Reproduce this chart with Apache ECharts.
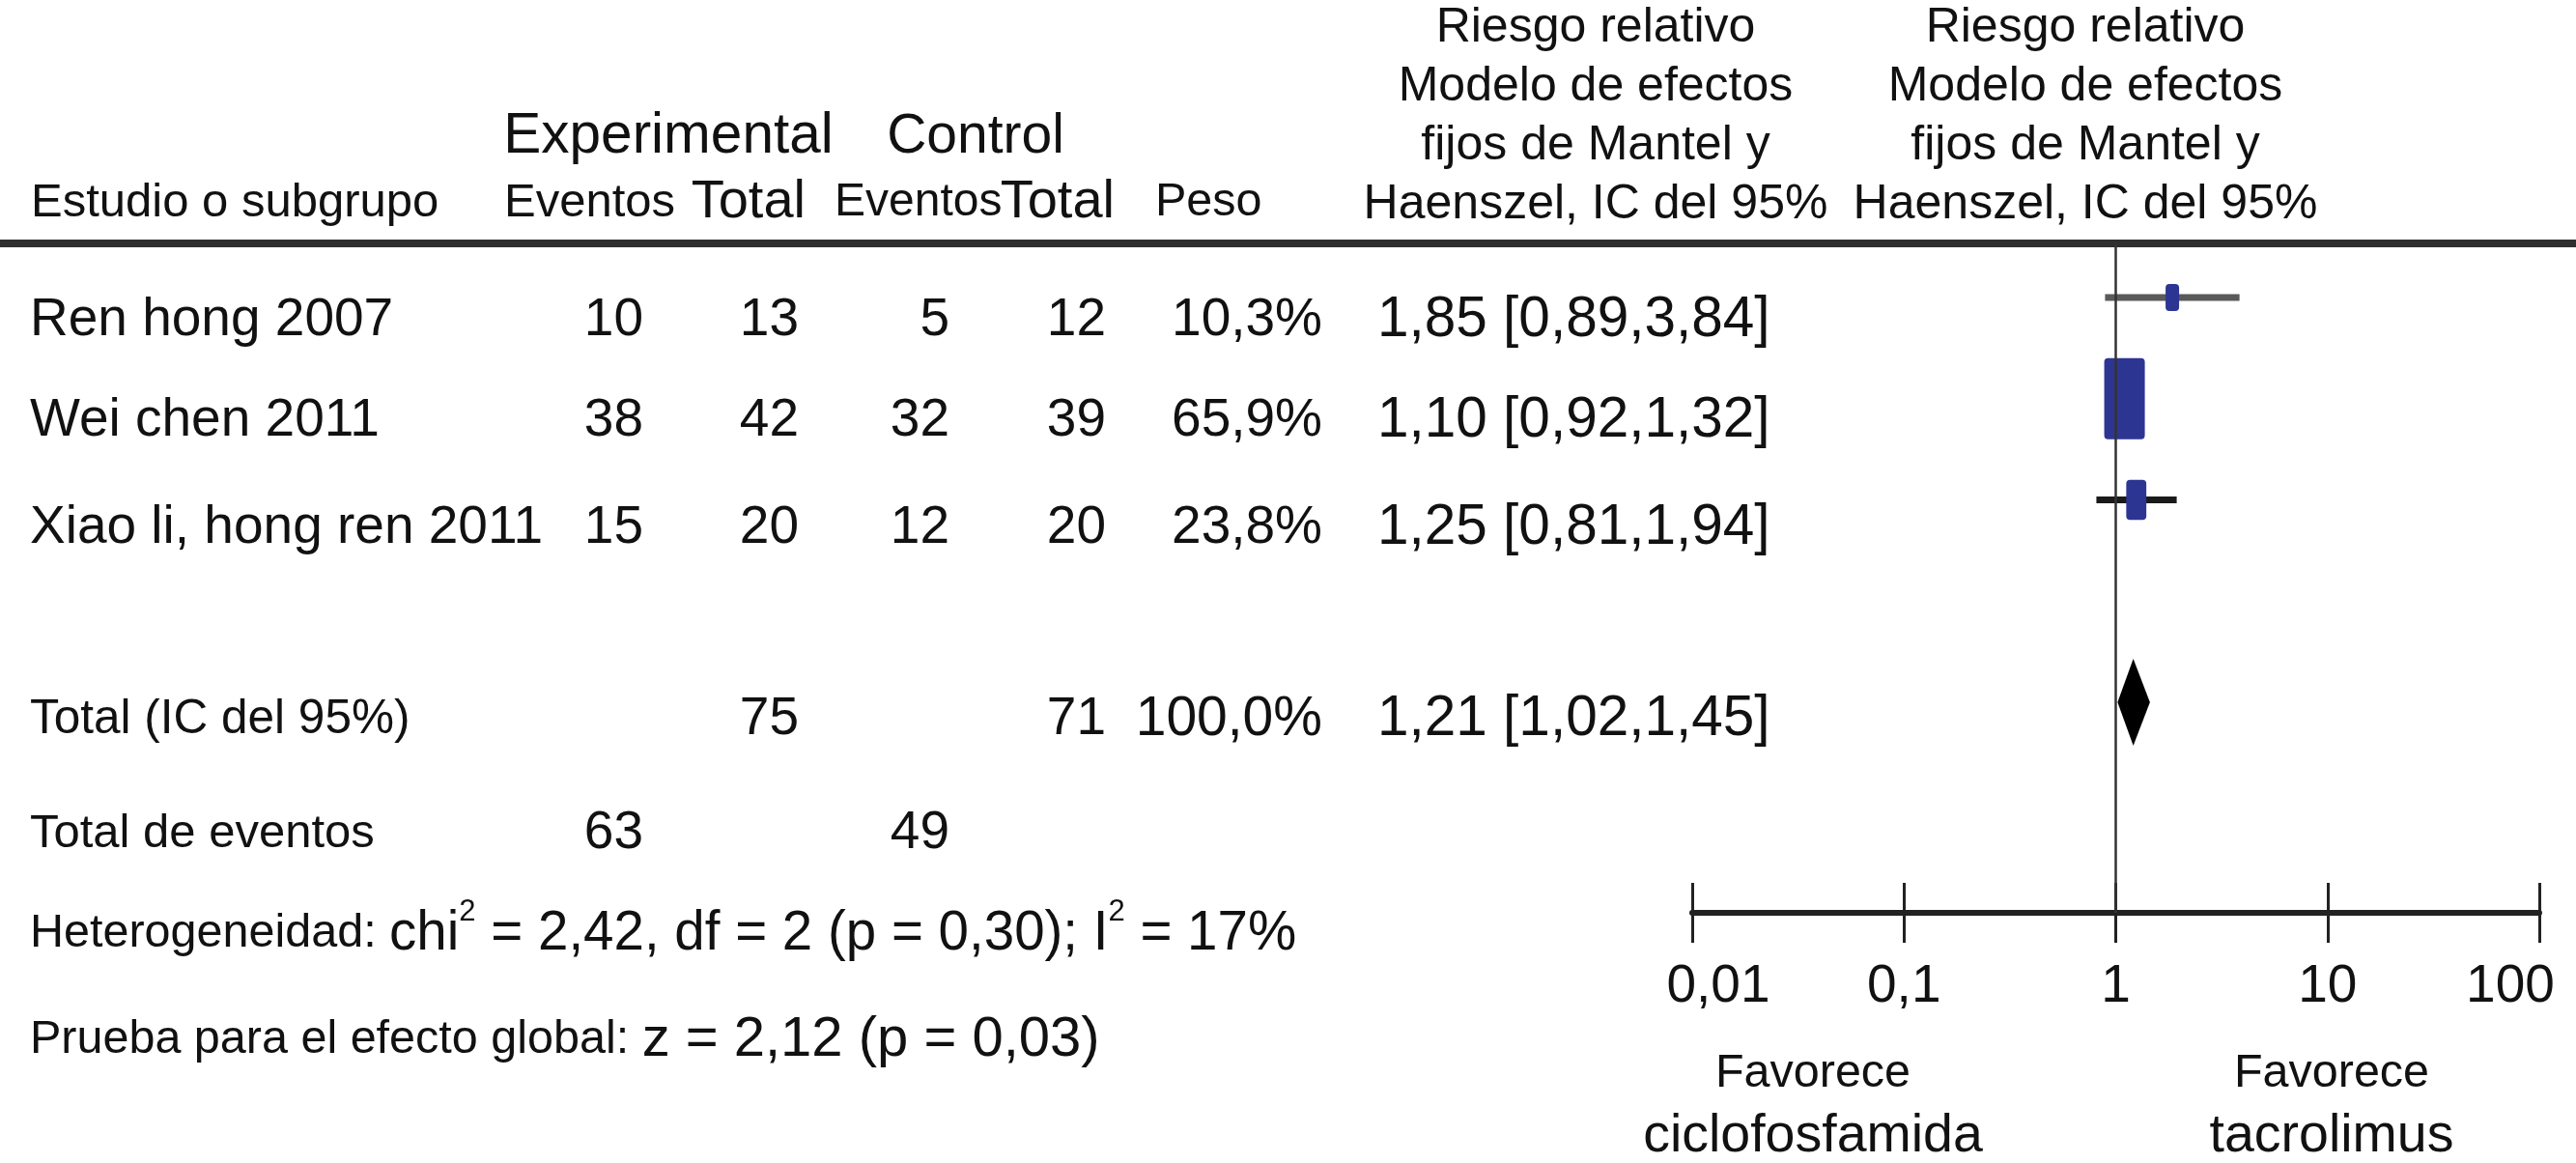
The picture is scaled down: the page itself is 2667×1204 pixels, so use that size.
<!DOCTYPE html>
<html>
<head>
<meta charset="utf-8">
<script src="https://cdn.jsdelivr.net/npm/echarts@6/dist/echarts.min.js"></script>
<style>
html,body{margin:0;padding:0;background:#fff;}
#main{width:2667px;height:1204px;}
</style>
</head>
<body>
<div id="main"></div>
<script>
// ---------- data ----------
const studies = ['Ren hong 2007', 'Wei chen 2011', 'Xiao li, hong ren 2011'];
const expEvents = [10, 38, 15];
const expTotal = [13, 42, 20];
const ctrlEvents = [5, 32, 12];
const ctrlTotal = [12, 39, 20];
const weights = [10.3, 65.9, 23.8];
const rr = [1.85, 1.10, 1.25];
const rrLow = [0.89, 0.92, 0.81];
const rrHigh = [3.84, 1.32, 1.94];
const studyRows = [0, 1, 2];

const pooledRow = 4;
const pooledRR = [1.21];
const pooledLow = [1.02];
const pooledHigh = [1.45];
const pooledExpTotal = 75;
const pooledCtrlTotal = 71;
const pooledWeight = 100.0;
const totalExpEvents = 63;
const totalCtrlEvents = 49;
const hetChi2 = 2.42, hetDf = 2, hetP = 0.30, hetI2 = 17;
const overallZ = 2.12, overallP = 0.03;

const axisTicks = [0.01, 0.1, 1, 10, 100];
const favourLeft = ['Favorece', 'ciclofosfamida'];
const favourRight = ['Favorece', 'tacrolimus'];

// ---------- styles / layout ----------
const FONT = '"Liberation Sans", Arial, Helvetica, sans-serif';
const ciColors = ['#5a5a5a', '#2a2a2a', '#1a1a1a'];
const boxColor = '#2d3593';
const textColor = '#111';
const colRight = [666, 827, 983, 1145, 1369];
const rrLeft = 1426;
const rowTextY = [332, 436, 547];
const totalTextY = 745;
const eventsTextY = 863;
const hetY = 967;
const testY = 1077;

function fmt(v, d) { return v.toFixed(d).replace('.', ','); }

function txt(x, y, text, size, align) {
  return {
    type: 'text', x: x, y: y, silent: true,
    style: {
      text: text, fill: textColor, fontSize: size, fontFamily: FONT,
      font: size + 'px ' + FONT,
      align: align || 'left', verticalAlign: 'middle',
      textAlign: align || 'left', textVerticalAlign: 'middle'
    }
  };
}

const graphics = [];
// header line
graphics.push({ type: 'line', silent: true, shape: { x1: 0, y1: 252, x2: 2667, y2: 252 },
  style: { stroke: '#2e2e2e', lineWidth: 8 } });
// headers
graphics.push(txt(32, 210, 'Estudio o subgrupo', 49, 'left'));
graphics.push(txt(692, 142, 'Experimental', 58.5, 'center'));
graphics.push(txt(1010, 142, 'Control', 57, 'center'));
graphics.push(txt(522, 210, 'Eventos', 49, 'left'));
graphics.push(txt(834, 210, 'Total', 56, 'right'));
graphics.push(txt(864, 210, 'Eventos', 48, 'left'));
graphics.push(txt(1154, 210, 'Total', 56, 'right'));
graphics.push(txt(1196, 210, 'Peso', 48.5, 'left'));
const rrHeader = 'Riesgo relativo\nModelo de efectos\nfijos de Mantel y\nHaenszel, IC del 95%';
[1652, 2159].forEach(function (cx) {
  graphics.push({ type: 'text', x: cx, y: 121, silent: true,
    style: { text: rrHeader, fill: textColor, fontSize: 50, fontFamily: FONT, font: '50px ' + FONT,
      lineHeight: 61, align: 'center', verticalAlign: 'middle', textAlign: 'center', textVerticalAlign: 'middle' } });
});
// study rows
studies.forEach(function (s, i) {
  const y = rowTextY[i];
  graphics.push(txt(31, y, s, 55, 'left'));
  graphics.push(txt(colRight[0], y, String(expEvents[i]), 55, 'right'));
  graphics.push(txt(colRight[1], y, String(expTotal[i]), 55, 'right'));
  graphics.push(txt(colRight[2], y, String(ctrlEvents[i]), 55, 'right'));
  graphics.push(txt(colRight[3], y, String(ctrlTotal[i]), 55, 'right'));
  graphics.push(txt(colRight[4], y, fmt(weights[i], 1) + '%', 55, 'right'));
  graphics.push(txt(rrLeft, y, fmt(rr[i], 2) + ' [' + fmt(rrLow[i], 2) + ',' + fmt(rrHigh[i], 2) + ']', 58.5, 'left'));
});
// total row
graphics.push(txt(31, totalTextY, 'Total (IC del 95%)', 49.5, 'left'));
graphics.push(txt(colRight[1], totalTextY, String(pooledExpTotal), 55, 'right'));
graphics.push(txt(colRight[3], totalTextY, String(pooledCtrlTotal), 55, 'right'));
graphics.push(txt(colRight[4], totalTextY, fmt(pooledWeight, 1) + '%', 57, 'right'));
graphics.push(txt(rrLeft, totalTextY, fmt(pooledRR[0], 2) + ' [' + fmt(pooledLow[0], 2) + ',' + fmt(pooledHigh[0], 2) + ']', 58.5, 'left'));
// events row
graphics.push(txt(31, eventsTextY, 'Total de eventos', 49, 'left'));
graphics.push(txt(colRight[0], eventsTextY, String(totalExpEvents), 55, 'right'));
graphics.push(txt(colRight[2], eventsTextY, String(totalCtrlEvents), 55, 'right'));
// heterogeneity & test
const richStyles = {
  a: { fontSize: 48.5, fontFamily: FONT, lineHeight: 76, fill: textColor, color: textColor },
  b: { fontSize: 56.5, fontFamily: FONT, lineHeight: 76, fill: textColor, color: textColor },
  c: { fontSize: 58, fontFamily: FONT, lineHeight: 76, fill: textColor, color: textColor },
  s: { fontSize: 31, fontFamily: FONT, lineHeight: 31, verticalAlign: 'top', fill: textColor, color: textColor }
};
graphics.push({ type: 'text', x: 31, y: hetY, silent: true,
  style: { text: '{a|Heterogeneidad: }{b|chi}{s|2}{b| = ' + fmt(hetChi2, 2) + ', df = ' + hetDf + ' (p = ' + fmt(hetP, 2) + '); I}{s|2}{b| = ' + hetI2 + '%}',
    rich: richStyles, align: 'left', verticalAlign: 'middle', textAlign: 'left', textVerticalAlign: 'middle' } });
graphics.push({ type: 'text', x: 31, y: testY, silent: true,
  style: { text: '{a|Prueba para el efecto global: }{c|z = ' + fmt(overallZ, 2) + ' (p = ' + fmt(overallP, 2) + ')}',
    rich: richStyles, align: 'left', verticalAlign: 'middle', textAlign: 'left', textVerticalAlign: 'middle' } });
// favours labels
[[1877, favourLeft], [2414, favourRight]].forEach(function (p) {
  graphics.push(txt(p[0], 1112, p[1][0], 48.5, 'center'));
  graphics.push(txt(p[0], 1177, p[1][1], 55.5, 'center'));
});

// ---------- series data ----------
const studyData = studies.map(function (s, i) {
  return [rr[i], rrLow[i], rrHigh[i], studyRows[i], weights[i]];
});
const pooledData = pooledRR.map(function (v, i) {
  return [v, pooledLow[i], pooledHigh[i], pooledRow];
});

const chart = echarts.init(document.getElementById('main'), null, { renderer: 'canvas' });
const xCommon = {
  type: 'log', logBase: 10, min: axisTicks[0], max: axisTicks[axisTicks.length - 1],
  splitLine: { show: false }, position: 'bottom', offset: 0
};
const labelRich = {
  n: { fontSize: 55, fontFamily: FONT, color: textColor },
  lo: { fontSize: 55, fontFamily: FONT, color: textColor, padding: [0, 0, 0, 54] },
  hi: { fontSize: 55, fontFamily: FONT, color: textColor, padding: [0, 60, 0, 0] }
};
chart.setOption({
  animation: false,
  backgroundColor: '#fff',
  textStyle: { fontFamily: FONT },
  grid: { left: 1752, right: 38, top: 252, bottom: 259, containLabel: false },
  xAxis: [
    Object.assign({}, xCommon, {
      axisLine: { show: true, onZero: false, lineStyle: { color: '#222', width: 6 } },
      axisTick: { show: true, length: 31, lineStyle: { color: '#222', width: 3 } },
      axisLabel: { show: true, margin: 49, fontSize: 55, color: textColor, fontFamily: FONT, rich: labelRich,
        formatter: function (v) {
          const s = String(v).replace('.', ',');
          if (v === axisTicks[0]) return '{lo|' + s + '}';
          if (v === axisTicks[axisTicks.length - 1]) return '{hi|' + s + '}';
          return '{n|' + s + '}';
        } }
    }),
    Object.assign({}, xCommon, {
      axisLine: { show: false, onZero: false },
      axisTick: { show: true, inside: true, length: 31, lineStyle: { color: '#222', width: 3 } },
      axisLabel: { show: false }
    })
  ],
  yAxis: { type: 'value', inverse: true, min: -0.535, max: 6.08, show: false },
  series: [
    {
      type: 'custom', name: 'studies', xAxisIndex: 0,
      data: studyData,
      encode: { x: [0, 1, 2], y: 3 },
      renderItem: function (params, api) {
        const i = params.dataIndex;
        const row = api.value(3);
        const lo = api.coord([api.value(1), row]);
        const hi = api.coord([api.value(2), row]);
        const c = api.coord([api.value(0), row]);
        const w = 8.8 + 0.504 * api.value(4);
        const h = 2 * w;
        return { type: 'group', children: [
          { type: 'line', shape: { x1: lo[0], y1: lo[1], x2: hi[0], y2: hi[1] },
            style: { stroke: ciColors[i], lineWidth: 7 } },
          { type: 'rect', shape: { x: c[0] - w / 2, y: c[1] - h / 2, width: w, height: h, r: 4 },
            style: { fill: boxColor } }
        ] };
      },
      markLine: {
        silent: true, symbol: 'none', label: { show: false },
        lineStyle: { color: '#333', width: 2.5, type: 'solid' },
        data: [{ xAxis: 1 }]
      },
      z: 3
    },
    {
      type: 'custom', name: 'pooled', xAxisIndex: 0,
      data: pooledData,
      encode: { x: [0, 1, 2], y: 3 },
      renderItem: function (params, api) {
        const row = api.value(3);
        const lo = api.coord([api.value(1), row]);
        const hi = api.coord([api.value(2), row]);
        const c = api.coord([api.value(0), row]);
        const hh = 45;
        return { type: 'polygon',
          shape: { points: [[lo[0], c[1]], [c[0], c[1] - hh], [hi[0], c[1]], [c[0], c[1] + hh]] },
          style: { fill: '#000' } };
      },
      z: 3
    }
  ],
  graphic: { elements: graphics }
});
</script>
</body>
</html>
